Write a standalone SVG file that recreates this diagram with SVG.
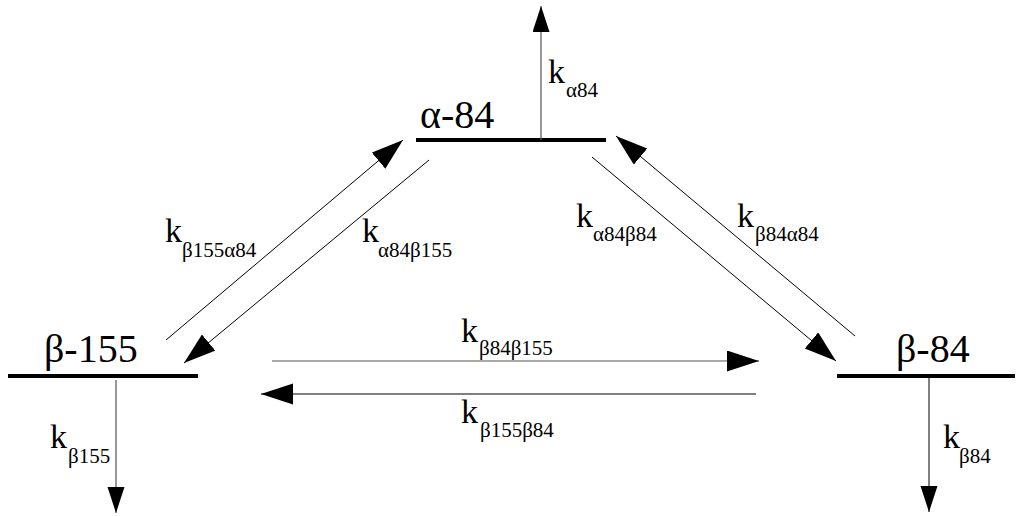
<svg xmlns="http://www.w3.org/2000/svg" width="1016" height="516" viewBox="0 0 1016 516">
  <style>
    .bar { stroke: #000; stroke-width: 4; fill: none; }
    .ln { stroke: #000; stroke-width: 1; fill: none; }
    .lv { stroke: #555; stroke-width: 1.2; fill: none; }
    text { fill: #000; font-family: 'Liberation Serif', 'Times New Roman', serif; }
    .name { font-size: 40px; }
    .k { font-size: 34px; }
    .sub { font-size: 21px; }
  </style>
  <defs>
    <marker id="headS" markerUnits="userSpaceOnUse" markerWidth="26" markerHeight="18" refX="26" refY="8.5" orient="auto">
      <path d="M0,0 L26,8.5 L0,17 z" fill="#000"/>
    </marker>
    <marker id="headL" markerUnits="userSpaceOnUse" markerWidth="32" markerHeight="22" refX="32" refY="10.5" orient="auto">
      <path d="M0,0 L32,10.5 L0,21 z" fill="#000"/>
    </marker>
  </defs>

  <rect width="1016" height="516" fill="#fff"/>

  <!-- energy levels -->
  <g id="alpha84">
    <line class="bar" x1="416" y1="140" x2="606" y2="140"/>
    <text class="name" x="420" y="128">α-84</text>
  </g>
  <g id="beta155">
    <line class="bar" x1="8" y1="376" x2="198" y2="376"/>
    <text class="name" x="44" y="362">β-155</text>
  </g>
  <g id="beta84">
    <line class="bar" x1="837" y1="376" x2="1015" y2="376"/>
    <text class="name" x="896" y="362">β-84</text>
  </g>

  <!-- rate arrows -->
  <g id="connectors">
    <line class="lv" x1="541" y1="140" x2="541" y2="6" marker-end="url(#headS)"/>
    <line class="lv" x1="116" y1="380" x2="116" y2="513" marker-end="url(#headS)"/>
    <line class="ln" x1="929" y1="378" x2="929" y2="512" marker-end="url(#headS)"/>

    <line class="ln" x1="166" y1="340" x2="403" y2="140" marker-end="url(#headL)"/>
    <line class="ln" x1="429" y1="160" x2="184" y2="363" marker-end="url(#headL)"/>
    <line class="ln" x1="592" y1="157" x2="836" y2="361" marker-end="url(#headL)"/>
    <line class="ln" x1="855" y1="336" x2="616" y2="136" marker-end="url(#headL)"/>

    <line class="lv" x1="272" y1="361" x2="759" y2="361" marker-end="url(#headL)"/>
    <line class="ln" x1="756" y1="394" x2="261" y2="394" marker-end="url(#headL)"/>
  </g>

  <!-- rate constant labels -->
  <g id="labels">
    <text class="k" x="548" y="83">k</text><text class="sub" x="566" y="97">α84</text>
    <text class="k" x="50" y="448">k</text><text class="sub" x="68" y="463">β155</text>
    <text class="k" x="943" y="448">k</text><text class="sub" x="959" y="463">β84</text>
    <text class="k" x="165" y="242">k</text><text class="sub" x="182" y="257">β155α84</text>
    <text class="k" x="362" y="242">k</text><text class="sub" x="378" y="257">α84β155</text>
    <text class="k" x="576" y="227">k</text><text class="sub" x="593" y="241">α84β84</text>
    <text class="k" x="737" y="227">k</text><text class="sub" x="755" y="241">β84α84</text>
    <text class="k" x="461" y="342">k</text><text class="sub" x="479" y="355">β84β155</text>
    <text class="k" x="461" y="423">k</text><text class="sub" x="480" y="437">β155β84</text>
  </g>
</svg>
